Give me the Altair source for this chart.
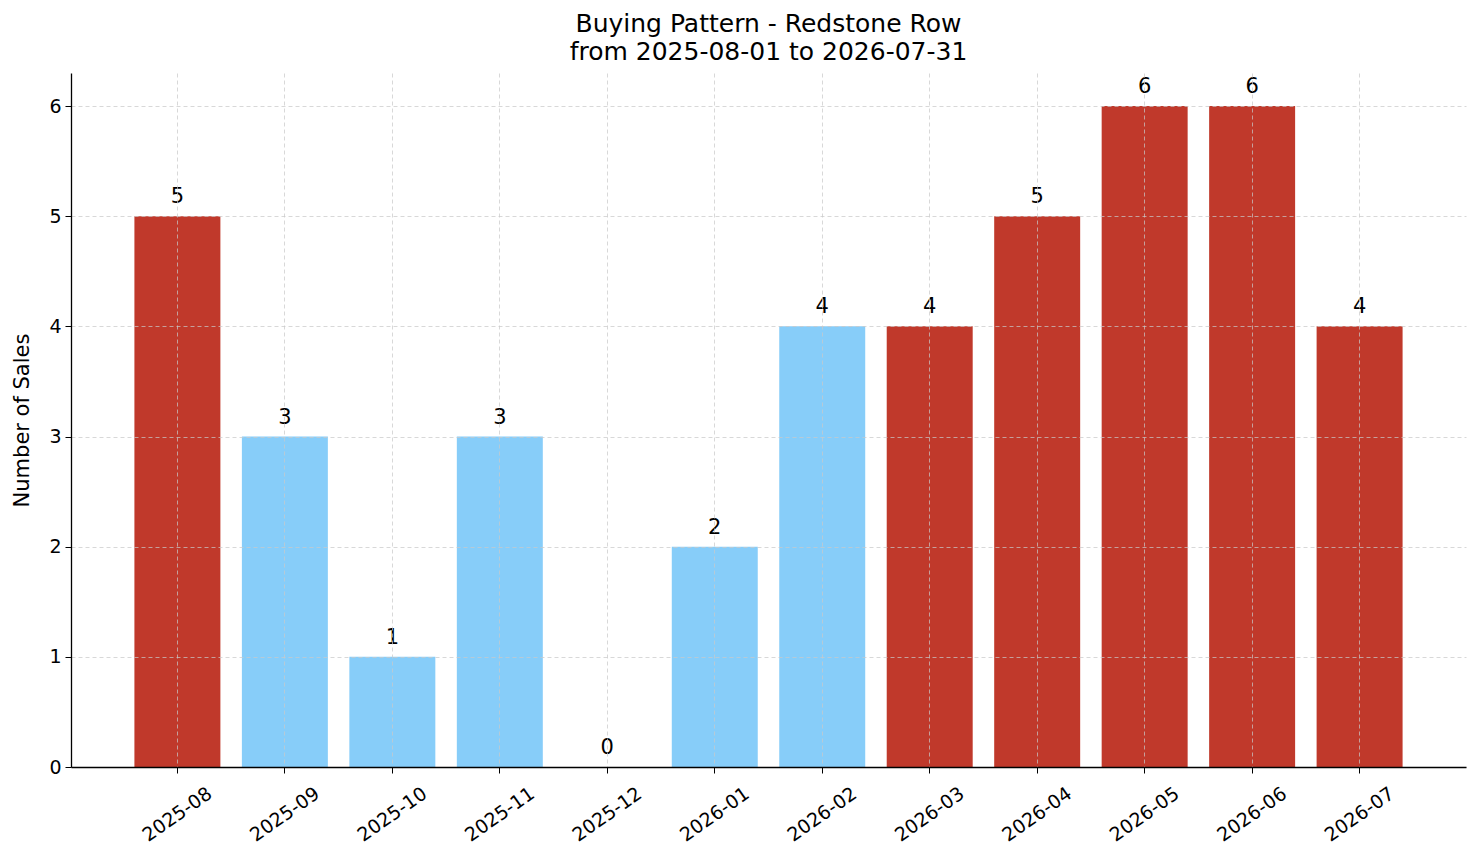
import altair as alt
import pandas as pd

# monthly sales
months = ["2025-08", "2025-09", "2025-10", "2025-11", "2025-12", "2026-01",
          "2026-02", "2026-03", "2026-04", "2026-05", "2026-06", "2026-07"]
sales = [5, 3, 1, 3, 0, 2, 4, 4, 5, 6, 6, 4]
groups = ["high", "low", "low", "low", "low", "low",
          "low", "high", "high", "high", "high", "high"]

df = pd.DataFrame({"month": months, "sales": sales, "group": groups})

FONT = "DejaVu Sans"

x_enc = alt.X("month:N", sort=months, title=None,
              scale=alt.Scale(paddingInner=0.2, paddingOuter=0.59),
              axis=alt.Axis(labelAngle=-35, labelAlign="center", labelBaseline="middle",
                            labelPadding=41, tickSize=6, tickColor="black",
                            domainColor="black", bandPosition=0.5,
                            grid=True, gridColor="#c8c8c8", gridDash=[4, 3],
                            gridWidth=0.8, gridOpacity=0.9, zindex=1))

y_enc = alt.Y("sales:Q", title="Number of Sales",
              scale=alt.Scale(domain=[0, 6.3], nice=False),
              axis=alt.Axis(values=[0, 1, 2, 3, 4, 5, 6], format="d", tickSize=6,
                            tickColor="black", domainColor="black", labelPadding=4,
                            grid=True, gridColor="#c8c8c8", gridDash=[4, 3],
                            gridWidth=0.8, gridOpacity=0.9, titlePadding=16,
                            titleFontSize=21, zindex=1))

bars = alt.Chart(df).mark_bar().encode(
    x=x_enc,
    y=y_enc,
    color=alt.Color("group:N", legend=None,
                    scale=alt.Scale(domain=["high", "low"], range=["#c0392b", "#87cdf9"])),
)

labels = alt.Chart(df).mark_text(baseline="alphabetic", dy=-13, fontSize=21,
                                 font=FONT, color="black").encode(
    x=alt.X("month:N", sort=months),
    y="sales:Q",
    text="sales:Q",
)

chart = alt.layer(bars, labels).properties(
    width=1395,
    height=694,
    autosize=alt.AutoSizeParams(type="none"),
    padding={"left": 63, "top": 65, "right": 7, "bottom": 80},
    title=alt.TitleParams(["Buying Pattern - Redstone Row", "from 2025-08-01 to 2026-07-31"],
                          fontSize=25, font=FONT, fontWeight="normal", color="black",
                          lineHeight=28, offset=8, anchor="middle"),
).configure_view(stroke=None).configure_axis(
    labelFont=FONT, titleFont=FONT, labelFontSize=19, titleFontSize=19,
    labelColor="black", titleColor="black", titleFontWeight="normal", domainWidth=1.3,
)

chart.save("out.html", embed_options={"renderer": "svg", "actions": False})
